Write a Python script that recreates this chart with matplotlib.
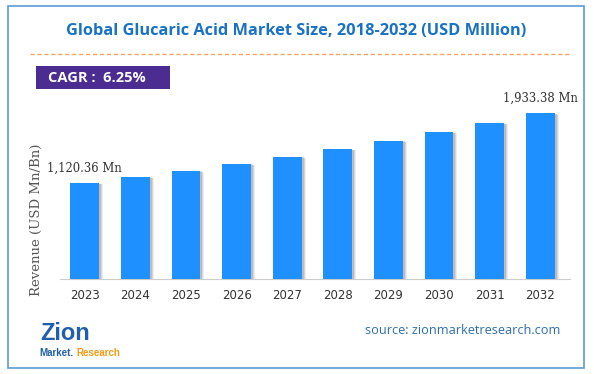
import matplotlib
matplotlib.use("Agg")
import matplotlib.pyplot as plt
from matplotlib.patches import Rectangle
from matplotlib.lines import Line2D

years = ["2023", "2024", "2025", "2026", "2027", "2028", "2029", "2030", "2031", "2032"]
values = [1120.36, 1190.4, 1264.8, 1343.8, 1427.8, 1517.0, 1611.8, 1712.6, 1819.6, 1933.38]
first_label = "1,120.36 Mn"
last_label = "1,933.38 Mn"
title = "Global Glucaric Acid Market Size, 2018-2032 (USD Million)"
cagr = "CAGR :  6.25%"
ylabel = "Revenue (USD Mn/Bn)"
source = "source: zionmarketresearch.com"

W, H = 594, 374
fig = plt.figure(figsize=(W / 100, H / 100), dpi=100)
fig.patch.set_facecolor("white")

def fx(px):
    return px / W

def fy(py):
    return 1 - py / H

# Border
fig.patches.append(Rectangle((fx(8), fy(368)), fx(584) - fx(8), fy(6) - fy(368),
                             transform=fig.transFigure, fill=False,
                             edgecolor="#5b9bd5", linewidth=1.2))

# Title
fig.text(fx(296), fy(31), title, ha="center", va="center", fontsize=11.8,
         fontweight="bold", color="#1a72c4", family="Open Sans")

# Dashed line
fig.lines.append(Line2D([fx(30), fx(570)], [fy(54), fy(54)], transform=fig.transFigure,
                        color="#f4a460", linestyle=(0, (3, 2)), linewidth=1.0))

# CAGR box
fig.patches.append(Rectangle((fx(36), fy(89)), fx(170) - fx(36), fy(66) - fy(89),
                             transform=fig.transFigure, facecolor="#4b2d92",
                             edgecolor="none"))
fig.text(fx(48), fy(77.5), cagr, ha="left", va="center", fontsize=10.5,
         fontweight="bold", color="white", family="Open Sans")

# Axes
ax = fig.add_axes([fx(60), fy(279), fx(570) - fx(60), fy(100) - fy(279)])
x = list(range(len(years)))
scale = 96 / 1120.36
ymax = 179 / scale
# shadows
for k, a in [(4, 0.10), (3, 0.15), (2, 0.2)]:
    off = k / 50.6
    ax.bar([xi + off for xi in x], [v - k / scale * 0.3 for v in values], width=0.57,
           color="#555555", alpha=a, zorder=1, linewidth=0)
ax.bar(x, values, width=0.57, color="#1e90ff", zorder=3, linewidth=0)
ax.set_xlim(-0.49, 9.59)
ax.set_ylim(0, ymax)
for s in ["top", "right", "left"]:
    ax.spines[s].set_visible(False)
ax.spines["bottom"].set_color("#cccccc")
ax.set_yticks([])
ax.set_xticks(x)
ax.set_xticklabels(years, fontsize=8.5, color="#333333", family="DejaVu Sans")
ax.tick_params(axis="x", length=0, pad=7)
ax.patch.set_alpha(0)

ax.annotate(first_label, (x[0], values[0]), xytext=(0, 6), textcoords="offset points",
            ha="center", va="bottom", fontsize=8.4, color="#333333", family="DejaVu Serif")
ax.annotate(last_label, (x[-1], values[-1]), xytext=(0, 6), textcoords="offset points",
            ha="center", va="bottom", fontsize=8.4, color="#333333", family="DejaVu Serif")

fig.text(fx(36), fy(220), ylabel, rotation=90, ha="center", va="center", fontsize=9.5,
         color="#555555", family="DejaVu Serif")

# Logo (text approximation)
fig.text(fx(40), fy(333), "Zion", ha="left", va="center", fontsize=17, fontweight="bold",
         color="#1f5fae", family="Liberation Sans")
fig.text(fx(39), fy(353), "Market.", ha="left", va="center", fontsize=7, fontweight="bold",
         color="#1f5fae", family="Liberation Sans")
fig.text(fx(76), fy(353), "Research", ha="left", va="center", fontsize=7, fontweight="bold",
         color="#f39c12", family="Liberation Sans")

fig.text(fx(463), fy(331), source, ha="center", va="center", fontsize=9.2,
         color="#2e6ea8", family="Open Sans")

fig.savefig("out.png", dpi=100, facecolor="white")
